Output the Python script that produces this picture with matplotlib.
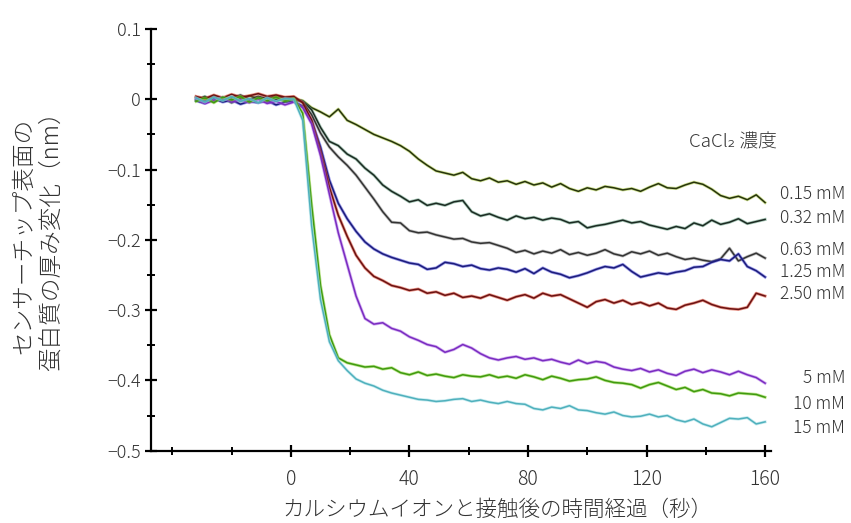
import numpy as np
import matplotlib
matplotlib.use("Agg")
import matplotlib.pyplot as plt
from matplotlib.ticker import MultipleLocator

plt.rcParams['font.family'] = ['Noto Sans CJK JP', 'DejaVu Sans']

# 時間軸 (秒) : -32 から 160 まで 3 秒おき
time_s = np.arange(-32, 161, 3)

labels = ["0.15 mM", "0.32 mM", "0.63 mM", "1.25 mM", "2.50 mM", "5 mM", "10 mM", "15 mM"]

# 厚み変化 (nm)
d_015 = [0.002, -0.004, 0.004, -0.001, 0.003, -0.003, 0.005, 0.001, -0.002, 0.004, 0.000,
         0.001, -0.002, -0.012, -0.018, -0.025, -0.014, -0.030, -0.036, -0.043, -0.050,
         -0.055, -0.060, -0.066, -0.074, -0.085, -0.094, -0.102, -0.105, -0.108, -0.104,
         -0.113, -0.116, -0.112, -0.118, -0.116, -0.121, -0.117, -0.122, -0.119, -0.125,
         -0.120, -0.127, -0.131, -0.126, -0.129, -0.124, -0.126, -0.129, -0.127, -0.131,
         -0.125, -0.120, -0.126, -0.127, -0.122, -0.118, -0.121, -0.128, -0.137, -0.141,
         -0.138, -0.143, -0.136, -0.147]
d_032 = [-0.001, 0.004, -0.003, 0.002, -0.005, 0.001, -0.002, 0.003, -0.004, 0.000, -0.002,
         -0.001, -0.003, -0.015, -0.040, -0.060, -0.066, -0.078, -0.085, -0.098, -0.108,
         -0.122, -0.131, -0.138, -0.146, -0.143, -0.151, -0.148, -0.151, -0.146, -0.144,
         -0.160, -0.166, -0.163, -0.168, -0.172, -0.166, -0.170, -0.168, -0.172, -0.169,
         -0.171, -0.176, -0.174, -0.183, -0.180, -0.178, -0.175, -0.172, -0.176, -0.174,
         -0.179, -0.182, -0.185, -0.181, -0.184, -0.176, -0.180, -0.172, -0.178, -0.175,
         -0.170, -0.177, -0.174, -0.171]
d_063 = [0.003, -0.003, 0.005, -0.001, 0.002, 0.006, 0.000, 0.004, 0.001, 0.005, 0.002,
         0.002, -0.004, -0.022, -0.048, -0.068, -0.082, -0.094, -0.108, -0.125, -0.142,
         -0.160, -0.175, -0.176, -0.187, -0.190, -0.189, -0.193, -0.196, -0.199, -0.198,
         -0.203, -0.205, -0.204, -0.208, -0.212, -0.218, -0.215, -0.220, -0.216, -0.219,
         -0.214, -0.221, -0.218, -0.222, -0.219, -0.214, -0.220, -0.223, -0.217, -0.220,
         -0.216, -0.222, -0.219, -0.224, -0.228, -0.226, -0.229, -0.231, -0.227, -0.212,
         -0.230, -0.224, -0.219, -0.226]
d_125 = [-0.002, -0.006, 0.001, -0.004, -0.001, -0.007, -0.003, -0.005, -0.002, -0.008, -0.004,
         -0.003, -0.010, -0.030, -0.068, -0.115, -0.148, -0.170, -0.188, -0.203, -0.213,
         -0.220, -0.225, -0.229, -0.233, -0.235, -0.242, -0.240, -0.232, -0.234, -0.238,
         -0.236, -0.241, -0.243, -0.240, -0.242, -0.246, -0.241, -0.248, -0.240, -0.246,
         -0.249, -0.254, -0.251, -0.247, -0.242, -0.238, -0.240, -0.235, -0.245, -0.253,
         -0.250, -0.247, -0.249, -0.246, -0.244, -0.239, -0.238, -0.232, -0.228, -0.230,
         -0.220, -0.238, -0.244, -0.253]
d_250 = [0.004, 0.001, 0.006, 0.002, 0.007, 0.003, 0.005, 0.008, 0.004, 0.006, 0.003,
         0.004, -0.005, -0.030, -0.075, -0.125, -0.165, -0.195, -0.222, -0.240, -0.252,
         -0.258, -0.265, -0.268, -0.272, -0.270, -0.276, -0.274, -0.279, -0.276, -0.282,
         -0.280, -0.283, -0.278, -0.282, -0.286, -0.281, -0.278, -0.283, -0.276, -0.280,
         -0.278, -0.284, -0.290, -0.296, -0.288, -0.285, -0.290, -0.286, -0.292, -0.289,
         -0.294, -0.290, -0.297, -0.299, -0.293, -0.290, -0.286, -0.292, -0.296, -0.298,
         -0.299, -0.296, -0.276, -0.280]
d_5 = [0.001, -0.006, -0.002, 0.003, -0.004, -0.001, -0.005, 0.000, -0.006, -0.003, -0.008,
       -0.004, -0.012, -0.035, -0.080, -0.135, -0.190, -0.235, -0.280, -0.312, -0.320,
       -0.318, -0.326, -0.330, -0.338, -0.343, -0.349, -0.352, -0.360, -0.356, -0.349,
       -0.354, -0.362, -0.368, -0.371, -0.368, -0.366, -0.370, -0.368, -0.372, -0.370,
       -0.374, -0.377, -0.371, -0.376, -0.373, -0.375, -0.381, -0.384, -0.386, -0.383,
       -0.388, -0.385, -0.390, -0.393, -0.387, -0.384, -0.389, -0.385, -0.388, -0.392,
       -0.387, -0.392, -0.396, -0.404]
d_10 = [-0.003, 0.002, -0.005, 0.003, -0.001, 0.004, -0.004, 0.002, -0.002, 0.003, -0.003,
        0.001, -0.020, -0.150, -0.265, -0.335, -0.368, -0.375, -0.378, -0.381, -0.380,
        -0.384, -0.382, -0.389, -0.392, -0.388, -0.393, -0.391, -0.394, -0.396, -0.392,
        -0.394, -0.395, -0.392, -0.396, -0.394, -0.397, -0.392, -0.395, -0.399, -0.394,
        -0.397, -0.401, -0.399, -0.398, -0.395, -0.400, -0.403, -0.404, -0.406, -0.411,
        -0.406, -0.403, -0.408, -0.413, -0.410, -0.416, -0.413, -0.418, -0.419, -0.422,
        -0.418, -0.419, -0.420, -0.424]
d_15 = [0.002, -0.004, 0.003, -0.002, 0.004, -0.003, 0.001, -0.005, 0.002, -0.003, 0.001,
        0.000, -0.030, -0.180, -0.285, -0.345, -0.372, -0.386, -0.398, -0.404, -0.408,
        -0.414, -0.418, -0.421, -0.424, -0.427, -0.428, -0.430, -0.429, -0.427, -0.426,
        -0.430, -0.428, -0.431, -0.433, -0.430, -0.433, -0.434, -0.440, -0.442, -0.438,
        -0.440, -0.436, -0.442, -0.443, -0.446, -0.448, -0.445, -0.450, -0.452, -0.451,
        -0.448, -0.452, -0.450, -0.456, -0.459, -0.455, -0.462, -0.466, -0.460, -0.454,
        -0.455, -0.453, -0.462, -0.459]

series = [d_015, d_032, d_063, d_125, d_250, d_5, d_10, d_15]

# (縁の色, 芯の色)
colors = [("#a8c83a", "#26330c"), ("#5f9a7c", "#1c2a22"), ("#8a8a8a", "#333333"),
          ("#4a4ad8", "#1c1c7a"), ("#d8402a", "#6a1212"), ("#b070e8", "#7a2cc0"),
          ("#86d030", "#3f9a10"), ("#9adbe4", "#4fb0bc")]

# ラベルの y 位置 (figure 座標)
label_y = [0.629, 0.583, 0.522, 0.480, 0.438, 0.277, 0.228, 0.182]

fig = plt.figure(figsize=(8.51, 5.23), dpi=100)
ax = fig.add_axes([0.1774, 0.1383, 0.7286, 0.8063])

for d, (halo, core) in zip(series, colors):
    ax.plot(time_s, d, color=halo, lw=2.2, alpha=0.55)
    ax.plot(time_s, d, color=core, lw=1.1)

ax.set_xlim(-47.2, 162)
ax.set_ylim(-0.5, 0.1)
for s in ['top', 'right']:
    ax.spines[s].set_visible(False)
for s in ['left', 'bottom']:
    ax.spines[s].set_linewidth(1.6)

ax.set_xticks([0, 40, 80, 120, 160])
ax.xaxis.set_minor_locator(MultipleLocator(20))
ax.set_yticks([0.1, 0, -0.1, -0.2, -0.3, -0.4, -0.5])
ax.set_yticklabels(["0.1", "0", "−0.1", "−0.2", "−0.3", "−0.4", "−0.5"])
ax.yaxis.set_minor_locator(MultipleLocator(0.05))
ax.tick_params(which='major', direction='inout', length=8, width=1.6,
               labelsize=13, labelcolor='#333333', pad=3)
ax.tick_params(axis='x', which='major', labelsize=14, pad=9)
ax.tick_params(which='minor', direction='inout', length=6, width=1.4)
for t in ax.get_xticklabels() + ax.get_yticklabels():
    t.set_fontweight('light')

ax.set_xlabel("カルシウムイオンと接触後の時間経過（秒）", fontsize=15.5, color='#333333',
              fontweight='light')
ax.xaxis.set_label_coords(0.558, -0.115)
ax.set_ylabel("センサーチップ表面の\n蛋白質の厚み変化（nm）", fontsize=17, color='#333333',
              linespacing=1.15, fontweight='light')
ax.yaxis.set_label_coords(-0.14, 0.51)

fig.text(0.81, 0.728, "CaCl₂ 濃度", fontsize=13.5, color='#333333', ha='left', va='center',
         fontweight='light')
for lab, y in zip(labels, label_y):
    fig.text(0.993, y, lab, fontsize=12.5, color='#333333', ha='right', va='center',
             fontweight='light')

fig.savefig("out.png", dpi=100)
